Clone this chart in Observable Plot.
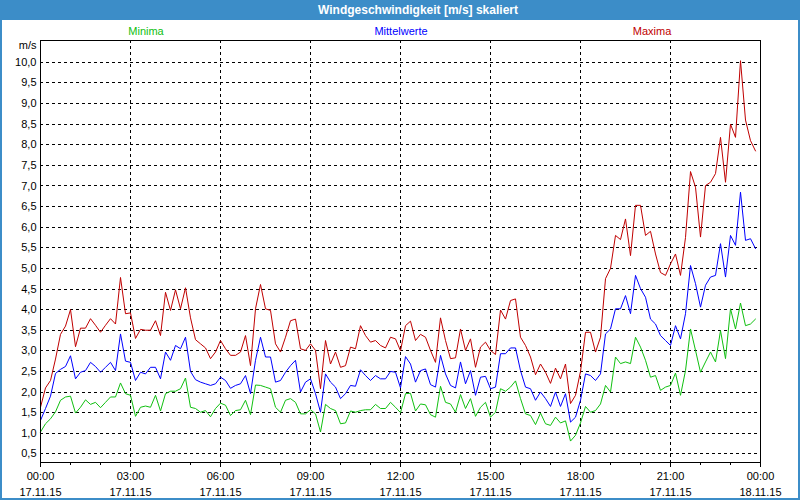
<!DOCTYPE html>
<html>
<head>
<meta charset="utf-8">
<script src="https://cdn.jsdelivr.net/npm/d3@7"></script>
<script src="https://cdn.jsdelivr.net/npm/@observablehq/plot@0.6"></script>
<style>
html,body{margin:0;padding:0;background:#fff;}
#wrap{position:relative;width:800px;height:500px;overflow:hidden;font-family:"Liberation Sans",Arial,sans-serif;background:#fff;}
#title{position:absolute;left:0;top:0;width:800px;height:20px;background:#3c8dc8;color:#fff;font-weight:bold;font-size:12px;line-height:20px;}
#title span{position:absolute;left:418px;transform:translateX(-50%);white-space:nowrap;}
.leg{position:absolute;top:24px;font-size:11px;line-height:14px;transform:translateX(-50%);white-space:nowrap;}
#chart{position:absolute;left:0;top:20px;}
#border{position:absolute;left:0;top:0;width:800px;height:500px;box-sizing:border-box;border:2px solid #3c8dc8;border-top:none;pointer-events:none;}
</style>
</head>
<body>
<div id="wrap">
  <div id="title"><span>Windgeschwindigkeit [m/s] skaliert</span></div>
  <div class="leg" style="left:146px;color:#10c010">Minima</div>
  <div class="leg" style="left:401px;color:#0000ff">Mittelwerte</div>
  <div class="leg" style="left:652px;color:#c00000">Maxima</div>
  <div id="chart"></div>
  <div id="border"></div>
</div>
<script>
// time stamps: every 10 minutes, in hours after 17.11.15 00:00
const minutes = d3.range(0, 1440, 10);

const maxima = [
1.63,2.1,2.28,2.8,3.4,3.6,4.0,3.1,3.55,3.55,3.78,3.62,
3.45,3.62,3.78,3.65,4.78,3.9,3.92,3.3,3.52,3.5,3.5,3.73,
3.37,4.42,3.98,4.48,4.02,4.53,3.8,3.27,3.17,3.07,2.81,2.97,
3.25,3.05,2.89,2.89,2.97,3.37,2.64,4.02,4.61,4.02,3.98,3.17,
2.97,3.33,3.73,3.77,3.05,3.01,3.17,3.01,2.08,3.25,2.68,2.97,
2.6,2.64,3.09,3.05,3.61,3.37,3.21,3.25,3.13,3.07,3.33,3.29,
3.0,3.61,3.72,3.25,3.4,3.33,3.01,2.72,3.8,3.25,2.81,2.83,
3.53,3.01,3.29,2.6,3.09,3.21,3.01,2.91,3.99,3.77,4.22,4.26,
3.33,3.13,2.85,2.42,2.68,2.48,2.21,2.58,2.32,2.68,1.72,1.92,
2.5,3.45,3.45,2.97,3.33,4.75,5.0,5.8,5.7,6.2,5.31,6.53,
6.53,5.8,5.9,5.35,4.9,4.83,5.11,5.35,4.83,5.75,7.35,6.97,
5.76,7.01,7.09,7.3,8.18,7.09,8.5,8.18,10.04,8.6,8.1,7.85
];

const mittelwerte = [
1.31,1.6,1.9,2.45,2.55,2.62,2.88,2.32,2.48,2.52,2.72,2.62,
2.48,2.6,2.72,2.52,3.41,2.75,2.72,2.28,2.48,2.44,2.6,2.6,
2.32,2.97,2.77,3.13,3.05,3.33,2.5,2.3,2.24,2.2,2.16,2.2,
2.36,2.28,2.09,2.16,2.2,2.4,1.96,2.77,3.33,2.85,2.85,2.24,
2.28,2.48,2.64,2.77,2.0,2.24,2.32,1.96,1.51,2.44,2.24,2.12,
1.84,1.96,2.16,2.14,2.54,2.4,2.28,2.4,2.32,2.32,2.5,2.48,
2.1,2.86,2.68,2.24,2.52,2.56,2.18,2.12,2.89,2.44,2.16,2.1,
2.73,2.2,2.52,1.92,2.36,2.38,2.08,2.12,2.93,2.93,3.07,3.07,
2.52,2.12,2.08,1.8,2.0,1.84,1.65,2.0,1.65,1.96,1.27,1.39,
1.8,2.44,2.4,2.28,2.44,3.41,3.53,4.02,4.02,4.34,3.9,4.83,
4.51,4.3,3.77,3.65,3.37,3.25,3.13,3.61,3.29,3.9,5.07,4.63,
4.06,4.59,4.79,4.83,5.6,4.79,5.8,5.56,6.85,5.68,5.72,5.48
];

const minima = [
1.03,1.23,1.35,1.52,1.8,1.88,1.9,1.49,1.63,1.81,1.7,1.75,
1.62,1.75,1.88,1.88,2.22,1.96,1.92,1.41,1.63,1.66,1.63,1.92,
1.54,1.96,2.02,2.02,2.08,2.34,1.63,1.6,1.51,1.55,1.4,1.6,
1.73,1.68,1.43,1.55,1.57,1.8,1.45,2.17,2.16,2.12,2.08,1.63,
1.51,1.8,1.84,1.75,1.47,1.47,1.57,1.47,1.03,1.7,1.6,1.55,
1.23,1.25,1.54,1.51,1.55,1.57,1.57,1.7,1.6,1.6,1.75,1.63,
1.5,1.96,1.97,1.54,1.71,1.69,1.45,1.39,2.14,1.75,1.71,1.51,
1.94,1.6,1.84,1.41,1.63,1.75,1.39,1.51,2.08,2.02,2.12,2.27,
1.84,1.47,1.43,1.21,1.49,1.23,1.19,1.39,1.25,1.3,0.81,0.95,
1.25,1.65,1.51,1.55,1.71,2.16,2.0,2.85,2.69,2.73,2.69,3.33,
3.09,2.77,2.36,2.4,2.04,2.12,2.16,2.46,1.92,2.52,3.53,3.01,
2.48,2.73,2.97,2.73,3.49,2.81,4.02,3.53,4.16,3.61,3.65,3.77
];

const yTicks = [0.5,1,1.5,2,2.5,3,3.5,4,4.5,5,5.5,6,6.5,7,7.5,8,8.5,9,9.5,10];
const hourTicks = [0,1,2,3,4,5,6,7,8,9,10,11,12,13,14,15,16,17,18,19,20,21,22,23,24];
const majorTicks = [0,3,6,9,12,15,18,21,24];
const innerMajor = [3,6,9,12,15,18,21];
const timeLabels = ["00:00","03:00","06:00","09:00","12:00","15:00","18:00","21:00","00:00"];
const dateLabels = ["17.11.15","17.11.15","17.11.15","17.11.15","17.11.15","17.11.15","17.11.15","17.11.15","18.11.15"];

const toRows = (vals) => vals.map((v, i) => ({h: minutes[i] / 60, v}));

const dash = {stroke: "black", strokeDasharray: "3,3", strokeWidth: 1, shapeRendering: "crispEdges"};

const chart = Plot.plot({
  width: 800,
  height: 480,
  marginLeft: 40,
  marginRight: 40,
  marginTop: 20,
  marginBottom: 38,
  style: {fontFamily: "'Liberation Sans', Arial, sans-serif", fontSize: "11px", color: "black", background: "transparent"},
  x: {domain: [0, 24]},
  y: {domain: [0.29, 10.53]},
  marks: [
    Plot.ruleY(yTicks, dash),
    Plot.ruleX(innerMajor, dash),
    Plot.line(toRows(minima), {x: "h", y: "v", stroke: "#10c010", strokeWidth: 1}),
    Plot.line(toRows(mittelwerte), {x: "h", y: "v", stroke: "#0000ff", strokeWidth: 1}),
    Plot.line(toRows(maxima), {x: "h", y: "v", stroke: "#c00000", strokeWidth: 1}),
    Plot.frame({stroke: "black", shapeRendering: "crispEdges"}),
    Plot.axisY({ticks: yTicks, tickSize: 0, tickPadding: 4, tickFormat: d => d.toFixed(1).replace(".", ","), fontSize: 11, label: null}),
    Plot.axisX({ticks: hourTicks, tickSize: 3, fill: "none", label: null}),
    Plot.axisX({ticks: majorTicks, tickSize: 5, tickPadding: 1, fontSize: 11, lineHeight: 16/11,
      tickFormat: h => timeLabels[majorTicks.indexOf(h)] + "\n" + dateLabels[majorTicks.indexOf(h)], label: null}),
    Plot.text(["m/s"], {frameAnchor: "top-left", dx: -4, dy: 5, textAnchor: "end", lineAnchor: "middle", fontSize: 11})
  ]
});
document.getElementById("chart").appendChild(chart);
</script>
</body>
</html>
